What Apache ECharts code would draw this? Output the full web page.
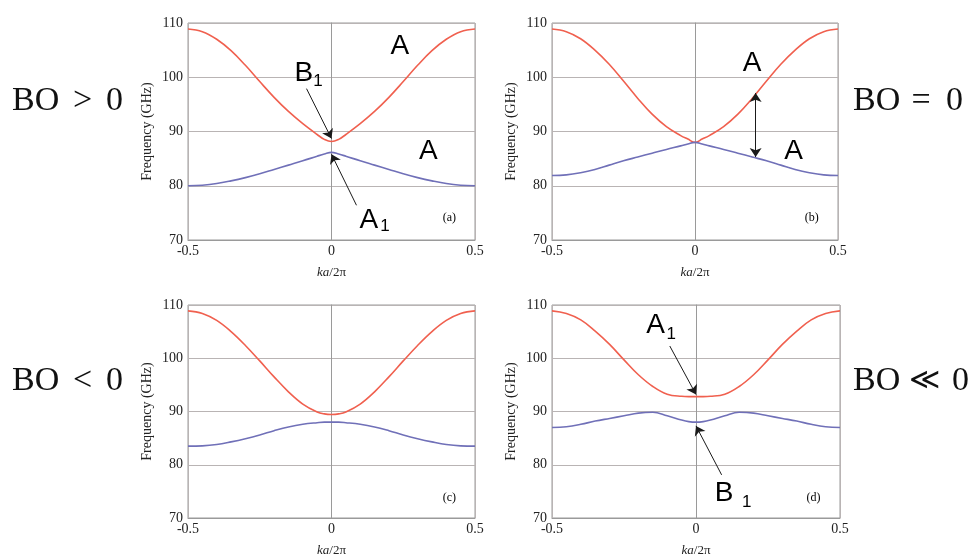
<!DOCTYPE html>
<html>
<head>
<meta charset="utf-8">
<script src="https://cdn.jsdelivr.net/npm/echarts@6/dist/echarts.min.js"></script>
<style>
html,body{margin:0;padding:0;background:#fff;}
#chart{width:971px;height:558px;}
</style>
</head>
<body>
<div id="chart"></div>
<script>
// ---- data ----
const K = [-0.5,-0.45,-0.4,-0.35,-0.3,-0.25,-0.2,-0.15,-0.1,-0.05,-0.025,0,0.025,0.05,0.1,0.15,0.2,0.25,0.3,0.35,0.4,0.45,0.5];
const xTicks = ['-0.5','0','0.5'];
const yTicks = ['70','80','90','100','110'];

const aUpper = [108.9,108.4,107.0,104.9,102.2,99.2,96.3,93.7,91.45,89.45,88.55,88.15,88.55,89.45,91.45,93.7,96.3,99.2,102.2,104.9,107.0,108.4,108.9];
const aLower = [80.0,80.1,80.4,80.9,81.5,82.2,83.0,83.8,84.6,85.45,85.85,86.15,85.85,85.45,84.6,83.8,83.0,82.2,81.5,80.9,80.4,80.1,80.0];
const bUpper = [108.9,108.4,107.1,105.0,102.4,99.3,96.1,93.2,90.9,89.25,88.6,88.0,88.6,89.25,90.9,93.2,96.1,99.3,102.4,105.0,107.1,108.4,108.9];
const bLower = [81.9,82.0,82.4,83.0,83.8,84.6,85.3,86.0,86.7,87.35,87.7,88.0,87.7,87.35,86.7,86.0,85.3,84.6,83.8,83.0,82.4,82.0,81.9];
const cUpper = [108.9,108.4,107.1,105.0,102.4,99.5,96.5,93.7,91.4,89.9,89.55,89.45,89.55,89.9,91.4,93.7,96.5,99.5,102.4,105.0,107.1,108.4,108.9];
const cLower = [83.5,83.55,83.8,84.3,84.9,85.6,86.4,87.1,87.6,87.9,88.0,88.0,88.0,87.9,87.6,87.1,86.4,85.6,84.9,84.3,83.8,83.55,83.5];
const dUpper = [108.9,108.4,107.2,105.1,102.6,99.7,96.9,94.7,93.25,92.85,92.8,92.8,92.8,92.85,93.25,94.7,96.9,99.7,102.6,105.1,107.2,108.4,108.9];
const dLower = [87.0,87.15,87.6,88.2,88.7,89.2,89.7,89.85,89.2,88.4,88.1,88.0,88.1,88.4,89.2,89.85,89.7,89.2,88.7,88.2,87.6,87.15,87.0];

const panelTags = ['(a)','(b)','(c)','(d)'];
const boLabels = [['BO','>','0'],['BO','=','0'],['BO','<','0'],['BO','\u226A','0']];

// annotation texts and arrows (in data coordinates: [ka/2pi, GHz])
const annA = {
  marks: [['A','big',0.238,105.7],['B','big',-0.096,100.7],['1','sub',-0.047,99.3],['A','big',0.337,86.4],['A','big',0.130,73.7],['1','sub',0.186,72.5],['(a)','tag',0.411,74.0]],
  arrows: [[[-0.087,97.9],[0,88.7],false],[[0.087,76.4],[0,85.8],false]]
};
const annB = {
  marks: [['A','big',0.200,102.5],['A','big',0.345,86.4],['(b)','tag',0.408,74.0]],
  arrows: [[[0.212,97.1],[0.212,85.3],true]]
};
const annC = {
  marks: [['(c)','tag',0.411,73.7]],
  arrows: []
};
const annD = {
  marks: [['A','big',-0.140,106.2],['1','sub',-0.086,104.5],['B','big',0.0975,74.7],['1','sub',0.176,73.0],['(d)','tag',0.408,73.7]],
  arrows: [[[-0.091,102.3],[0,93.2],false],[[0.089,78.1],[0,87.3],false]]
};

// ---- layout / style ----
const grids = [
  {left:188, top:23, width:287, height:217},
  {left:552, top:23, width:286, height:217},
  {left:188, top:305, width:287, height:217},
  {left:552, top:305, width:288, height:217}
];
const SERIF = 'Liberation Serif';
const SANS = 'Liberation Sans';
const RED = '#f0604f';
const BLUE = '#7070b8';
const GRIDC = '#b9b4b4';
const TXT = '#222';

const markStyles = {
  big: {fontFamily: SANS, fontSize: 28},
  sub: {fontFamily: SANS, fontSize: 17},
  tag: {fontFamily: SERIF, fontSize: 12}
};

const xAxes = grids.map((g,i)=>({
  gridIndex:i, type:'value', min:-0.5, max:0.5, interval:0.5,
  axisLine:{show:true, lineStyle:{color:'#9a9a9a', width:1}},
  axisTick:{show:false},
  splitLine:{show:true, lineStyle:{color:GRIDC, width:1}},
  axisLabel:{margin:4, fontFamily:SERIF, fontSize:14, color:TXT,
    formatter:(v)=>{const idx=Math.round((v+0.5)/0.5); return xTicks[idx];}},
  name:'{i|ka}/2\u03C0', nameLocation:'middle', nameGap:26,
  nameTextStyle:{fontFamily:SERIF, fontSize:13, color:TXT,
    rich:{i:{fontFamily:SERIF, fontStyle:'italic', fontSize:13, color:TXT}}}
}));
const yAxes = grids.map((g,i)=>({
  gridIndex:i, type:'value', min:70, max:110, interval:10,
  axisLine:{show:true, lineStyle:{color:'#9a9a9a', width:1}},
  axisTick:{show:false},
  splitLine:{show:true, lineStyle:{color:GRIDC, width:1}},
  axisLabel:{margin:5, fontFamily:SERIF, fontSize:14, color:TXT,
    formatter:(v)=>yTicks[Math.round((v-70)/10)]},
  name:'Frequency (GHz)', nameLocation:'middle', nameGap:34,
  nameTextStyle:{fontFamily:SERIF, fontSize:14, color:TXT}
}));

function pairs(vals){ return K.map((k,i)=>[k, vals[i]]); }

function makeSeries(i, upper, lower, ann){
  const common = {type:'line', xAxisIndex:i, yAxisIndex:i, smooth:0.4, showSymbol:false, symbol:'none', silent:true, animation:false, z:3};
  const up = Object.assign({}, common, {
    data: pairs(upper), lineStyle:{color:RED, width:1.6},
    markPoint:{
      symbol:'circle', symbolSize:1, silent:true, animation:false,
      itemStyle:{color:'rgba(0,0,0,0)'},
      data: ann.marks.map(m=>({coord:[m[2], m[3]], value:0,
        label:Object.assign({show:true, position:'inside', formatter:m[0], color:'#000'}, markStyles[m[1]])}))
    },
    markLine:{
      silent:true, animation:false, symbolSize:9,
      label:{show:false},
      lineStyle:{color:'#1a1a1a', width:1, type:'solid'},
      emphasis:{disabled:true},
      data: ann.arrows.map(a=>[
        {coord:a[0], symbol: a[2] ? 'arrow' : 'none'},
        {coord:a[1], symbol:'arrow'}
      ])
    }
  });
  const lo = Object.assign({}, common, {data: pairs(lower), lineStyle:{color:BLUE, width:1.6}});
  return [up, lo];
}

const series = [].concat(
  makeSeries(0, aUpper, aLower, annA),
  makeSeries(1, bUpper, bLower, annB),
  makeSeries(2, cUpper, cLower, annC),
  makeSeries(3, dUpper, dLower, annD)
);

// side labels: [BO left x, relation center x, zero left x, center y]
const boPos = [[12, 82.5, 106, 101],[853, 921, 946, 101],[12, 82.5, 106, 381],[853, 924, 952, 381]];
const graphic = [];
boLabels.forEach((lab, i)=>{
  const p = boPos[i];
  const st = {fontFamily:SERIF, fontSize:34, fill:'#111', verticalAlign:'middle'};
  graphic.push({type:'text', silent:true, style:Object.assign({text:lab[0], x:p[0], y:p[3], align:'left'}, st)});
  const rs = Object.assign({}, st, i === 3 ? {fontFamily:'DejaVu Serif', fontSize:30} : {});
  graphic.push({type:'text', silent:true, style:Object.assign({text:lab[1], x:p[1], y:p[3], align:'center'}, rs)});
  graphic.push({type:'text', silent:true, style:Object.assign({text:lab[2], x:p[2], y:p[3], align:'left'}, st)});
});

const chart = echarts.init(document.getElementById('chart'), null, {renderer:'canvas'});
chart.setOption({
  backgroundColor:'#fff',
  animation:false,
  grid: grids.map(g=>Object.assign({show:true, borderColor:'#9a9a9a', borderWidth:1, backgroundColor:'#fff'}, g)),
  xAxis: xAxes,
  yAxis: yAxes,
  series: series,
  graphic: graphic
});
</script>
</body>
</html>
